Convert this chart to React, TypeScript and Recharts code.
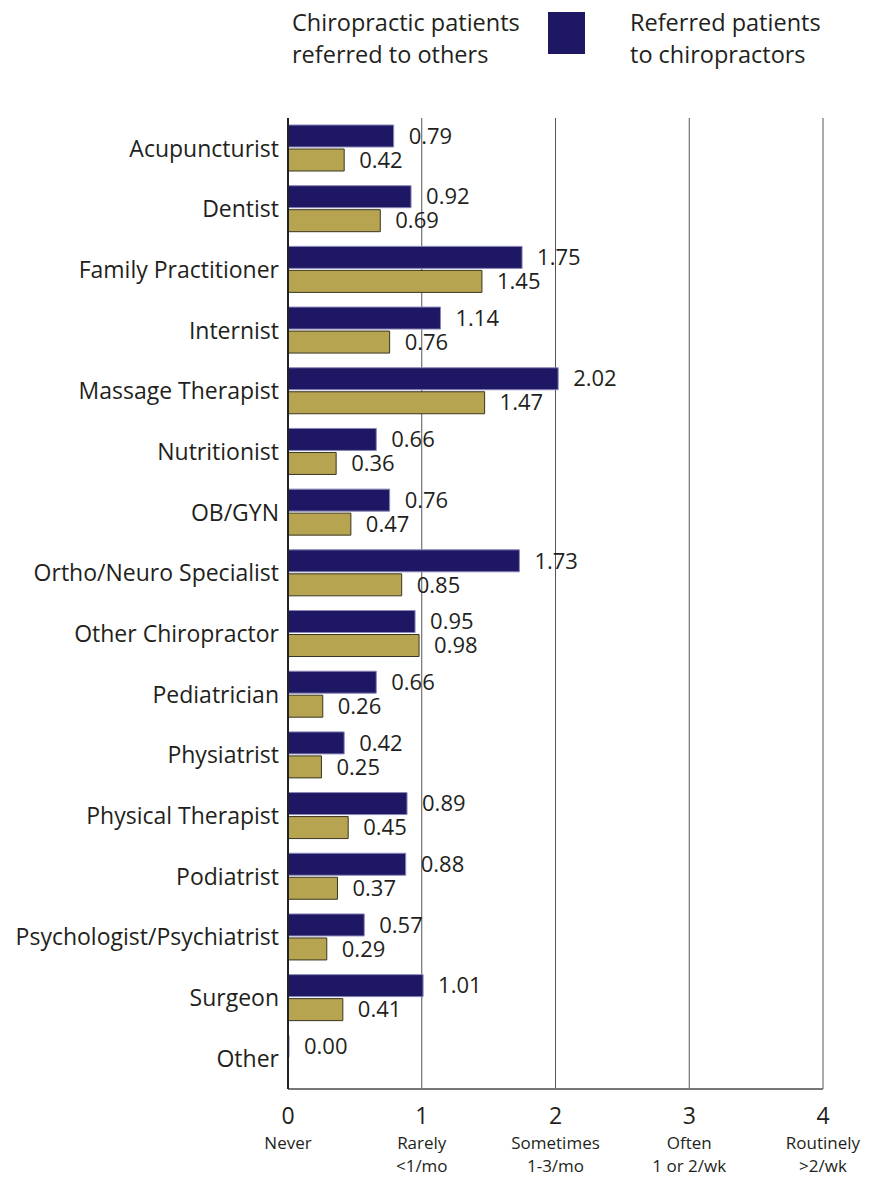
import {
  BarChart,
  Bar,
  XAxis,
  YAxis,
  CartesianGrid,
  LabelList,
} from "recharts";

const categories = [
  "Acupuncturist",
  "Dentist",
  "Family Practitioner",
  "Internist",
  "Massage Therapist",
  "Nutritionist",
  "OB/GYN",
  "Ortho/Neuro Specialist",
  "Other Chiropractor",
  "Pediatrician",
  "Physiatrist",
  "Physical Therapist",
  "Podiatrist",
  "Psychologist/Psychiatrist",
  "Surgeon",
  "Other",
];

const referredToChiro = [0.79, 0.92, 1.75, 1.14, 2.02, 0.66, 0.76, 1.73, 0.95, 0.66, 0.42, 0.89, 0.88, 0.57, 1.01, 0.0];
const referredToOthers = [0.42, 0.69, 1.45, 0.76, 1.47, 0.36, 0.47, 0.85, 0.98, 0.26, 0.25, 0.45, 0.37, 0.29, 0.41, null];

const xTicks = [0, 1, 2, 3, 4];
const xTickWords = ["Never", "Rarely", "Sometimes", "Often", "Routinely"];
const xTickFreq = ["", "<1/mo", "1-3/mo", "1 or 2/wk", ">2/wk"];

const NAVY = "#1e1763";
const GOLD = "#b6a450";
const INK = "#231f20";
const FONT = "'Open Sans', sans-serif";

const data = categories.map((name, i) => ({
  name,
  toChiro: referredToChiro[i],
  toOthers: referredToOthers[i],
}));

const ValueLabel = (props: any) => {
  const { x, y, width, height, value } = props;
  if (value === null || value === undefined) return null;
  return (
    <text
      x={x + width + 15}
      y={y + height / 2}
      dy="0.35em"
      fontSize={22}
      fill={INK}
      fontFamily={FONT}
    >
      {Number(value).toFixed(2)}
    </text>
  );
};

const XTick = ({ x, y, payload }: any) => {
  const i = xTicks.indexOf(payload.value);
  return (
    <g transform={`translate(${x},${y})`} fontFamily={FONT} fill={INK}>
      <text textAnchor="middle" y={19} dy="0.35em" fontSize={23}>
        {payload.value}
      </text>
      <text textAnchor="middle" y={46} dy="0.35em" fontSize={17}>
        {xTickWords[i]}
      </text>
      <text textAnchor="middle" y={69} dy="0.35em" fontSize={17}>
        {xTickFreq[i]}
      </text>
    </g>
  );
};

const LegendBox = () => (
  <div
    style={{
      position: "absolute",
      left: 0,
      top: 0,
      width: 869,
      height: 80,
      fontFamily: FONT,
      fontSize: 23.5,
      lineHeight: "32px",
      color: INK,
    }}
  >
    <div style={{ position: "absolute", left: 292, top: 6 }}>
      Chiropractic patients
      <br />
      referred to others
    </div>
    <div
      style={{
        position: "absolute",
        left: 548,
        top: 12,
        width: 37,
        height: 42,
        background: NAVY,
      }}
    />
    <div style={{ position: "absolute", left: 630, top: 6 }}>
      Referred patients
      <br />
      to chiropractors
    </div>
  </div>
);

export default function App() {
  return (
    <div style={{ position: "absolute", left: 0, top: 0, width: 869, height: 1180, background: "#fff" }}>
      <BarChart
        width={869}
        height={1180}
        data={data}
        layout="vertical"
        margin={{ top: 118, right: 46, bottom: 0, left: 0 }}
        barSize={22}
        barGap={2}
      >
        <CartesianGrid horizontal={false} stroke="#555" strokeWidth={1} />
        <XAxis
          type="number"
          domain={[0, 4]}
          ticks={xTicks}
          tick={<XTick />}
          tickLine={false}
          axisLine={{ stroke: "#777", strokeWidth: 2 }}
          height={91}
        />
        <YAxis
          type="category"
          dataKey="name"
          width={288}
          tickLine={false}
          tickMargin={3}
          axisLine={{ stroke: "#222", strokeWidth: 2 }}
          tick={{ fill: INK, fontSize: 23, fontFamily: FONT }}
          interval={0}
        />
        <Bar
          dataKey="toChiro"
          fill={NAVY}
          stroke="#8a87b8"
          strokeWidth={1}
          minPointSize={1}
          isAnimationActive={false}
        >
          <LabelList dataKey="toChiro" content={<ValueLabel />} />
        </Bar>
        <Bar
          dataKey="toOthers"
          fill={GOLD}
          stroke="#3a3520"
          strokeWidth={1}
          isAnimationActive={false}
        >
          <LabelList dataKey="toOthers" content={<ValueLabel />} />
        </Bar>
      </BarChart>
      <LegendBox />
    </div>
  );
}
